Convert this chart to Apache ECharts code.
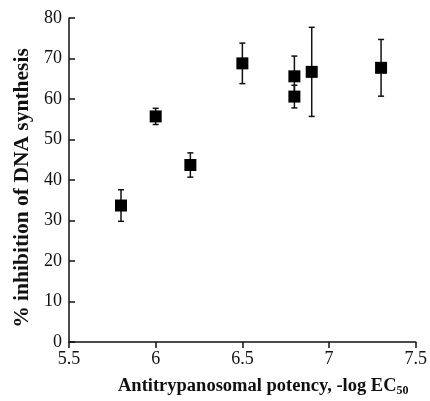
<!DOCTYPE html>
<html><head><meta charset="utf-8">
<script src="https://cdn.jsdelivr.net/npm/echarts@6/dist/echarts.min.js"></script>
<style>html,body{margin:0;padding:0;background:#fff}#c{width:430px;height:401px}</style>
</head><body><div id="c"></div>
<script>
const potency = [5.8, 6.0, 6.2, 6.5, 6.8, 6.8, 6.9, 7.3];
const inhibition = [33.7, 55.7, 43.7, 68.8, 65.6, 60.6, 66.7, 67.7];
const errUp = [3.9, 2.0, 3.0, 5.0, 5.0, 2.8, 11.0, 7.0];
const errDown = [3.9, 2.0, 3.0, 5.0, 5.0, 2.8, 11.0, 7.0];
const xTicks = [5.5, 6, 6.5, 7, 7.5];
const yTicks = [0, 10, 20, 30, 40, 50, 60, 70, 80];

const pts = potency.map((x, i) => [x, inhibition[i]]);
const errData = potency.map((x, i) => [x, inhibition[i] - errDown[i], inhibition[i] + errUp[i]]);
const font = '"Liberation Serif", "DejaVu Serif", serif';

const chart = echarts.init(document.getElementById('c'), null, {renderer: 'canvas'});
chart.setOption({
  animation: false,
  backgroundColor: '#fff',
  grid: {left: 69, right: 13, top: 18, bottom: 59, containLabel: false},
  xAxis: {
    type: 'value', min: xTicks[0], max: xTicks[xTicks.length - 1], interval: 0.5,
    axisLine: {lineStyle: {color: '#111', width: 1.5}},
    axisTick: {inside: false, length: 6, lineStyle: {color: '#111', width: 1.5}},
    axisLabel: {color: '#111', fontFamily: font, fontSize: 18, margin: 8},
    splitLine: {show: false}
  },
  yAxis: {
    type: 'value', min: yTicks[0], max: yTicks[yTicks.length - 1], interval: 10,
    axisLine: {show: true, lineStyle: {color: '#111', width: 1.5}},
    axisTick: {show: true, inside: true, length: 6, lineStyle: {color: '#111', width: 1.5}},
    axisLabel: {color: '#111', fontFamily: font, fontSize: 18, margin: 7},
    splitLine: {show: false},
    name: '% inhibition of DNA synthesis',
    nameLocation: 'middle', nameGap: 36, nameRotate: 90,
    nameTextStyle: {color: '#111', fontFamily: font, fontSize: 21.5, fontWeight: 'bold', padding: [0, 16, 0, 0]}
  },
  graphic: [{
    type: 'text', left: 118, top: 377,
    style: {
      rich: {
        a: {fontFamily: font, fontSize: 18.5, fontWeight: 'bold', fill: '#111'},
        s: {fontFamily: font, fontSize: 12, fontWeight: 'bold', fill: '#111', padding: [8, 0, 0, 0]}
      },
      text: '{a|Antitrypanosomal potency, -log EC}{s|50}'
    }
  }],
  series: [{
    type: 'custom',
    data: errData,
    renderItem: function (params, api) {
      const x = api.value(0);
      const lo = api.coord([x, api.value(1)]);
      const hi = api.coord([x, api.value(2)]);
      const cap = 3;
      const st = {stroke: '#111', lineWidth: 1.5};
      return {type: 'group', children: [
        {type: 'line', shape: {x1: lo[0], y1: lo[1], x2: hi[0], y2: hi[1]}, style: st},
        {type: 'line', shape: {x1: lo[0] - cap, y1: lo[1], x2: lo[0] + cap, y2: lo[1]}, style: st},
        {type: 'line', shape: {x1: hi[0] - cap, y1: hi[1], x2: hi[0] + cap, y2: hi[1]}, style: st}
      ]};
    },
    z: 1
  }, {
    type: 'scatter',
    data: pts,
    symbol: 'rect', symbolSize: 12,
    itemStyle: {color: '#000', opacity: 1},
    z: 2
  }]
});
</script></body></html>
